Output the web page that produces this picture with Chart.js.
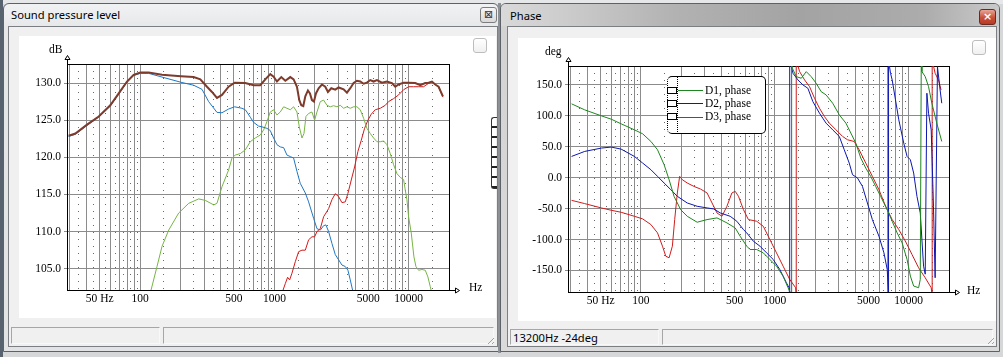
<!DOCTYPE html>
<html><head><meta charset="utf-8">
<title>Sound pressure level / Phase</title>
<script src="https://cdn.jsdelivr.net/npm/chart.js@4.4.1/dist/chart.umd.min.js"></script>
<style>
html,body{margin:0;padding:0}
body{width:1003px;height:357px;position:relative;overflow:hidden;background:#d6d7d9;font-family:"Noto Sans",Lato,sans-serif}
div,canvas{position:absolute;box-sizing:border-box}
.frame{border:1px solid #5e6268;border-radius:6px 6px 0 0}
.client{border:1px solid #7b7f84;background:#f0f0f0}
.panel{background:#fff;overflow:hidden}
.title{font-size:11.2px;color:#000;white-space:nowrap;line-height:14px}
.chk{width:14px;height:15px;border:1px solid #bdbdbd;border-radius:3px;background:linear-gradient(#ffffff,#f0f0f0)}
.sb{height:17px;border:1px solid;border-color:#a6a6a6 #f8f8f8 #f8f8f8 #a6a6a6;font-size:11.2px;line-height:15px;padding-left:2px;white-space:nowrap;color:#000}
.unit{font-family:"Liberation Serif",serif;font-size:11.5px;line-height:12px;color:#000;white-space:nowrap}
.close{width:17px;height:16px;border:1px solid #7d7d7d;border-radius:3px;font-size:11px;line-height:13px;text-align:center;font-family:"DejaVu Sans",sans-serif}
.grip{width:9px;height:9px;background:repeating-linear-gradient(135deg,transparent 0 2px,#a0a0a0 2px 3px);clip-path:polygon(100% 0,100% 100%,0 100%)}
</style></head><body>

<!-- background strips -->
<div style="left:0;top:0;width:1003px;height:4px;background:#e6e7e8"></div>
<div style="left:0;top:0;width:3px;height:357px;background:#56626e"></div>

<!-- LEFT WINDOW -->
<div class="frame" style="left:3px;top:3px;width:496px;height:349px;background:linear-gradient(180deg,#f1f2f3 0,#e6e7e9 24px,#e2e3e5 100%)"></div>
<div class="title" style="left:11px;top:8px">Sound pressure level</div>
<div class="close" style="left:480px;top:7px;background:linear-gradient(#f6f6f6,#d9d9d9);color:#333">⊠</div>
<div class="client" style="left:8px;top:26px;width:490px;height:321px"></div>
<div class="panel" style="left:19px;top:36px;width:477px;height:282px"><canvas id="spl" width="477" height="282" style="left:0;top:0"></canvas></div>
<div class="chk" style="left:473px;top:38px"></div>
<div class="unit" style="left:49px;top:43px">dB</div>
<div class="unit" style="left:469px;top:281px">Hz</div>
<div style="left:491px;top:117px;width:6px;height:72px;border:1px solid #333;border-right:none;border-radius:3px 0 0 3px;background:repeating-linear-gradient(180deg,transparent 0 8px,#222 8px 10px)"></div>
<div class="sb" style="left:11px;top:327px;width:149px"></div>
<div class="sb" style="left:163px;top:327px;width:331px"></div>
<div class="grip" style="left:485px;top:335px"></div>

<!-- gap -->
<div style="left:498px;top:3px;width:3px;height:350px;background:#8d9094"></div>

<!-- RIGHT WINDOW -->
<div class="frame" style="left:500px;top:3px;width:500px;height:349px;background:linear-gradient(180deg,#dcdcdc 0,#d3d3d3 24px,#dadada 100%)"></div>
<div style="left:501px;top:4px;width:498px;height:22px;border-radius:5px 5px 0 0;background:linear-gradient(90deg,#d9d9d9 0%,#cdcdcd 12%,#b2b2b2 35%,#a3a3a3 60%,#acacac 85%,#c9c9c9 100%)"></div>
<div class="title" style="left:510px;top:9px">Phase</div>
<div class="close" style="left:979px;top:9px;border-color:#6b2a20;background:linear-gradient(#e9a595,#c9503a 55%,#b73a25);color:#fff;font-weight:bold">×</div>
<div class="client" style="left:507px;top:26px;width:490px;height:321px"></div>
<div class="panel" style="left:518px;top:38px;width:478px;height:283px"><canvas id="phase" width="478" height="283" style="left:0;top:0"></canvas></div>
<div class="chk" style="left:972px;top:40px"></div>
<div class="unit" style="left:545px;top:45px">deg</div>
<div class="unit" style="left:967px;top:284px">Hz</div>
<div id="legend" style="left:667px;top:76px;width:99px;height:58px;border:1px solid #000;border-left-style:dotted;border-radius:5px;background:#fff"></div>
<div class="sb" style="left:510px;top:329px;width:149px;height:16px">13200Hz -24deg</div>
<div class="sb" style="left:662px;top:329px;width:331px;height:16px"></div>
<div class="grip" style="left:985px;top:335px"></div>

<script>
// ---------- data ----------
const FREQ_MIN = 28.5, FREQ_MAX = 20000;
const gridHz = [30,40,50,60,70,80,90,100,200,300,400,500,600,700,800,900,1000,2000,3000,4000,5000,6000,7000,8000,9000,10000,20000];
const minorGridHz = [35,45,55,65,75,85,95,150,250,350,450,550,650,750,850,950,1500,2500,3500,4500,5500,6500,7500,8500,9500,15000];
const hzLabelValues = [50,100,500,1000,5000,10000];
const hzLabelTexts = ['50 Hz','100','500','1000','5000','10000'];

const SPL_MIN = 102.14, SPL_MAX = 132.56;
const splTicks = [105,110,115,120,125,130];
const PHASE_MIN = -184.8, PHASE_MAX = 180.6;
const phaseTicks = [-150,-100,-50,0,50,100,150];

const splTotal = [[29.3,122.9],[32.9,123.2],[40.2,124.4],[49.1,125.5],[59.9,127.0],[69.2,128.6],[79.8,130.2],[89.4,131.1],[100.3,131.4],[115.7,131.4],[145.4,131.1],[201.4,130.9],[250.3,130.8],[280.6,130.5],[314.6,129.5],[342.7,128.8],[373.4,128.0],[407,128.4],[456,129.5],[505.7,130.05],[607,130.0],[701,129.7],[785,129.7],[856,130.5],[932,131.2],[987,130.85],[1045,130.2],[1126,130.8],[1206,130.3],[1314,130.8],[1391,130.5],[1473,129.5],[1533,127.7],[1587,127.0],[1642,126.9],[1700,128.2],[1778,129.0],[1841,128.6],[1905,127.7],[1972,127.5],[2040,128.6],[2136,129.3],[2261,129.8],[2394,129.5],[2507,128.8],[2654,129.3],[2843,129.1],[3010,129.4],[3280,129.15],[3473,128.7],[3677,129.3],[3894,130.0],[4122,130.3],[4365,130.2],[4622,129.9],[4892,130.05],[5181,130.4],[5486,130.2],[5808,130.4],[6329,130.05],[6897,130.2],[7513,130.0],[7956,129.5],[8426,129.8],[9179,130.05],[10000,130.05],[11210,130.0],[12213,129.7],[13307,130.0],[14092,130.05],[14918,130.2],[15798,129.8],[16729,129.5],[18025,128.2]];

const splWoofer = [[29.3,122.8],[32.9,123.1],[40.2,124.3],[49.1,125.4],[59.9,126.9],[69.2,128.5],[79.8,130.1],[89.4,131.0],[100.3,131.3],[115.7,131.3],[145.4,130.8],[201.4,130.1],[250.3,129.7],[288.8,129.15],[323.8,127.5],[373.4,126.05],[407,126.0],[456,126.5],[505.7,126.8],[573,126.6],[607,126.4],[624,126.1],[661,125.4],[701,124.7],[763,124.2],[808,124.1],[880,123.9],[932,123.6],[987,122.6],[1045,121.7],[1107,121.4],[1172,121.3],[1241,120.3],[1314,120.1],[1391,119.9],[1473,118.1],[1559,116.5],[1700,115.2],[1799,114.0],[1960,111.8],[2076,110.4],[2198,110.2],[2327,110.8],[2422,110.9],[2536,110.0],[2685,108.4],[2843,106.9],[3010,106.2],[3187,105.5],[3374,105.3],[3532,104.8],[3677,103.5],[3827,102.1],[3950,100.5]];

const splMid = [[120.4,102.1],[133.5,105.3],[145.4,108.0],[163.1,110.2],[193.6,112.5],[229.8,113.8],[272.8,114.4],[305.8,114.2],[352.9,113.6],[373.4,113.8],[407,116.05],[456,118.3],[483,119.9],[511,120.3],[557,120.5],[607,121.0],[661,122.1],[721,122.6],[785,123.0],[832,123.7],[880,124.8],[932,126.1],[987,126.4],[1045,125.7],[1107,126.1],[1172,126.8],[1241,126.6],[1314,126.4],[1391,126.8],[1473,126.1],[1533,124.1],[1605,122.6],[1661,123.2],[1719,125.5],[1799,125.9],[1905,126.1],[1994,125.0],[2076,126.1],[2198,127.5],[2327,127.7],[2464,127.0],[2609,126.8],[2762,126.95],[2925,126.8],[3097,127.0],[3280,126.6],[3473,126.8],[3677,126.6],[3894,126.8],[4122,126.8],[4365,126.4],[4622,125.25],[4892,123.9],[5181,123.2],[5486,122.6],[5808,122.1],[6151,122.1],[6512,122.2],[6897,121.7],[7301,120.5],[7733,119.0],[8189,117.8],[8669,117.3],[9179,117.0],[9444,115.6],[9718,114.3],[10000,112.0],[10469,109.8],[10959,106.6],[11342,105.3],[11870,104.8],[12570,104.9],[13307,104.8],[13927,103.9],[14498,102.6],[14918,101.7]];

const splTweeter = [[1159,102.1],[1206,103.0],[1255,103.85],[1299,103.5],[1352,104.4],[1432,105.95],[1516,107.3],[1605,107.5],[1700,107.5],[1799,108.9],[1905,109.3],[1994,109.3],[2076,110.0],[2198,110.4],[2327,112.0],[2422,112.5],[2536,113.1],[2685,114.3],[2843,115.1],[3010,114.7],[3187,113.9],[3374,114.0],[3532,115.15],[3740,116.95],[3960,118.7],[4193,120.8],[4440,122.3],[4700,123.9],[4977,125.0],[5269,125.8],[5644,126.4],[6151,126.6],[6702,127.0],[7094,127.5],[7733,127.9],[8426,128.4],[9179,129.1],[10000,129.5],[10895,129.5],[11870,129.5],[12934,129.5],[14092,129.96],[14918,130.15],[15798,129.8],[16729,129.45],[18025,128.1]];

const phaseD1 = [[30.3,119.4],[38.0,109.7],[50.6,100.0],[60.0,94.6],[71.1,87.1],[89.3,77.4],[102.9,71.0],[118.6,58.6],[132.9,45.2],[148.9,21.0],[162.2,-3.2],[176.6,-30.1],[197.8,-51.6],[221.7,-62.4],[262.8,-72.0],[311.8,-67.7],[369.8,-65.0],[438.6,-73.1],[505.6,-81.2],[550.5,-94.6],[616.8,-110.7],[652.9,-116.1],[731.5,-116.1],[819.6,-121.5],[918.2,-132.2],[1028.8,-143.0],[1152.7,-159.1],[1255.3,-177.9],[1335,-190],[1335,190],[1351.4,176.9],[1446.8,163.4],[1575.8,160.8],[1716.1,171.5],[1868.9,163.4],[2035.4,152.7],[2216.6,139.2],[2414.1,133.9],[2704.8,120.4],[3030.6,101.6],[3395.7,88.2],[3698.1,72.1],[4027.7,55.9],[4385.7,31.7],[4776.7,15.6],[5200.7,2.2],[5663.5,-14.0],[6167.3,-30.1],[6912.1,-51.6],[7525.3,-70.4],[8196.4,-89.2],[8928,-105.4],[9721.8,-132.2],[10289,-159.1],[10891,-175.2],[11860,-177.9],[12202,-164.5],[12412,190],[12552,171.5],[13289,163.4],[14067,147.3],[14892,120.4],[16211,88.2],[17660,58.6]];

const phaseD2 = [[30.3,34.4],[38.0,42.5],[50.6,47.9],[60.0,49.5],[71.1,46.2],[89.3,34.4],[102.9,23.7],[118.6,12.9],[132.9,2.2],[148.9,-8.6],[166.9,-19.3],[186.9,-30.1],[221.7,-40.9],[262.8,-46.2],[311.8,-48.9],[349.3,-50.5],[391.5,-57.0],[464,-62.4],[520,-70.4],[582.8,-83.9],[616.8,-89.2],[691.1,-102.7],[774.3,-110.7],[867.5,-121.5],[972,-132.2],[1089,-148.4],[1220.1,-169.9],[1276.9,-177.9],[1291,-190],[1291,190],[1366.9,168.8],[1488.5,158.1],[1621.3,150.0],[1765.6,144.6],[1922.8,123.1],[2154.5,104.3],[2414.1,88.2],[2704.8,77.4],[3030.6,66.7],[3300,45.2],[3594.4,23.7],[3804.9,4.8],[4144.1,-0.5],[4512.3,-14.0],[4914.7,-40.9],[5351.1,-67.7],[5994.4,-94.6],[6530,-121.5],[6912.1,-148.4],[7070,-190],[7070,190],[7315,168.8],[7525.3,158.1],[7966.8,125.8],[8432.6,93.6],[9185.1,55.9],[9721.8,34.4],[10289,29.0],[10891,7.5],[11527,-30.1],[12202,-57.0],[12552,-100.0],[12913,-143.0],[13289,-156.0],[13673,136.6],[14067,104.3],[14722,77.4],[15315,-46.2],[15755,-161.8],[16398,179.6],[17161,141.9],[17660,120.4]];

const phaseD3 = [[30.3,-36.6],[38.0,-41.9],[50.6,-48.9],[60.0,-52.7],[71.1,-55.9],[89.3,-62.4],[102.9,-66.6],[118.6,-75.8],[132.9,-89.2],[144.7,-110.7],[153.2,-126.9],[162.2,-129.5],[171.6,-110.7],[178.6,-67.7],[186.9,-24.7],[194.5,2.2],[203.6,-3.2],[221.7,-8.6],[248.4,-14.0],[278.3,-18.3],[311.8,-24.7],[339.6,-40.9],[369.8,-57.0],[402.7,-62.4],[438.6,-46.2],[477.5,-24.7],[505.6,-22.0],[535.1,-30.1],[582.8,-51.6],[634.6,-67.7],[731.5,-70.4],[819.6,-78.5],[918.2,-100.0],[1028.8,-121.5],[1152.7,-143.0],[1291.4,-164.5],[1430.5,-177.9],[1445,-190],[1445,190],[1531.7,171.5],[1668,158.1],[1816.5,147.3],[1978.3,128.5],[2154.5,112.4],[2346.5,98.9],[2555.2,88.2],[2863.1,77.4],[3208,66.7],[3493.5,61.3],[3914.7,58.6],[4262.3,45.2],[4776.7,23.7],[5351.1,2.2],[5994.4,-19.3],[6717.2,-46.2],[7525.3,-67.7],[8432.6,-83.9],[9449.3,-102.7],[10587,-124.2],[11860,-145.7],[13289,-161.8],[14722,-177.9],[14975,-190],[14975,190],[15755,168.8],[16681,158.1],[17457,141.9]];

const phaseLabels = ['D1, phase','D2, phase','D3, phase'];

// ---------- chart setup ----------
const SERIF = {family:'"Liberation Serif", "Times New Roman", serif', size:11.5};
Chart.defaults.font = {...Chart.defaults.font, ...SERIF};
Chart.defaults.color = '#000';

const axisArrows = {
  id:'axisArrows',
  afterDraw(chart){
    const {ctx} = chart; const a = chart.chartArea;
    const L = Math.round(a.left)+0.5, B = Math.round(a.bottom)+0.5, T = Math.round(a.top), R = Math.round(a.right);
    ctx.save(); ctx.strokeStyle='#000'; ctx.lineWidth=1;
    ctx.beginPath(); ctx.moveTo(L,T); ctx.lineTo(L,T-4); ctx.stroke();
    ctx.beginPath(); ctx.moveTo(L,T-8.5); ctx.lineTo(L-2.5,T-4.5); ctx.lineTo(L+2.5,T-4.5); ctx.closePath(); ctx.stroke();
    ctx.beginPath(); ctx.moveTo(R,B); ctx.lineTo(R+6,B); ctx.stroke();
    ctx.beginPath(); ctx.moveTo(R+6.5,B-2.5); ctx.lineTo(R+10.5,B); ctx.lineTo(R+6.5,B+2.5); ctx.closePath(); ctx.stroke();
    ctx.restore();
  }
};

function scales(yMin, yMax, yTicks, yWidth, xHeight){
  const GRID = '#8c8c8c';
  return {
    x: {type:'logarithmic', position:'bottom', min:FREQ_MIN, max:FREQ_MAX,
      afterBuildTicks: s => { s.ticks = gridHz.map(v => ({value:v})); },
      afterFit: s => { s.height = xHeight; },
      grid:{color:GRID, lineWidth:1, drawTicks:false},
      border:{color:'#000', width:1},
      ticks:{autoSkip:false, maxRotation:0, minRotation:0, padding:2, color:'#000', font:SERIF,
        callback: v => { const i = hzLabelValues.indexOf(v); return i >= 0 ? hzLabelTexts[i] : ''; }}
    },
    xMinor: {type:'logarithmic', position:'bottom', min:FREQ_MIN, max:FREQ_MAX,
      afterBuildTicks: s => { s.ticks = minorGridHz.map(v => ({value:v})); },
      afterFit: s => { s.height = 0; },
      grid:{color:'#686868', lineWidth:1, drawTicks:false},
      border:{display:false, dash:[1,6]},
      ticks:{display:false}
    },
    xTop: {type:'linear', position:'top', min:0, max:1,
      afterFit: s => { s.height = 0; },
      grid:{display:false, drawTicks:false}, border:{color:'#000', width:1}, ticks:{display:false}
    },
    y: {type:'linear', position:'left', min:yMin, max:yMax,
      afterBuildTicks: s => { s.ticks = yTicks.map(v => ({value:v})); },
      afterFit: s => { s.width = yWidth; },
      grid:{color:GRID, lineWidth:1, drawTicks:true, tickLength:3, tickColor:'#8c8c8c'},
      border:{color:'#000', width:1},
      ticks:{padding:3, color:'#000', font:SERIF, callback: v => Number(v).toFixed(1)}
    },
    yRight: {type:'linear', position:'right', min:0, max:1,
      afterFit: s => { s.width = 0; },
      grid:{display:false, drawTicks:false}, border:{color:'#000', width:1}, ticks:{display:false}
    }
  };
}

function line(label, data, color, width){
  return {label, data, borderColor:color, backgroundColor:color, borderWidth:width,
    pointRadius:0, tension:0, fill:false};
}

const common = {
  responsive:false, animation:false, events:[],
  plugins:{legend:{display:false}, tooltip:{enabled:false}}
};

new Chart(document.getElementById('spl'), {
  type:'line',
  data:{datasets:[
    line('Total', splTotal, '#7e3b2c', 2),
    line('D1', splWoofer, '#1f77c4', 1),
    line('D2', splMid, '#77b545', 1),
    line('D3', splTweeter, '#d11a1a', 1)
  ]},
  options:{...common, layout:{padding:{top:28, right:47, left:0, bottom:0}},
    scales: scales(SPL_MIN, SPL_MAX, splTicks, 48, 28)},
  plugins:[axisArrows]
});

const phaseChart = new Chart(document.getElementById('phase'), {
  type:'line',
  data:{datasets:[
    line(phaseLabels[0], phaseD1, '#1e861e', 1),
    line(phaseLabels[1], phaseD2, '#0d17b0', 1),
    line(phaseLabels[2], phaseD3, '#d01c1c', 1)
  ]},
  options:{...common, layout:{padding:{top:28, right:47, left:0, bottom:0}},
    scales: scales(PHASE_MIN, PHASE_MAX, phaseTicks, 50, 29)},
  plugins:[axisArrows]
});

// HTML legend built from the chart's datasets
const lg = document.getElementById('legend');
lg.innerHTML = '<div style="left:9px;top:-1px;width:1px;height:58px;border-left:1px dotted #000"></div>';
phaseChart.data.datasets.forEach((ds, i) => {
  const cy = 13 + i * 13.3;
  lg.insertAdjacentHTML('beforeend',
    `<div style="left:-1px;top:${cy-3.5}px;width:10px;height:7px;border:1px solid #000;background:#fff"></div>` +
    `<div style="left:10px;top:${cy}px;width:25px;height:1px;background:${ds.borderColor}"></div>` +
    `<div class="unit" style="left:37px;top:${cy-6.5}px;line-height:13px">${ds.label}</div>`);
});
</script>
</body></html>
